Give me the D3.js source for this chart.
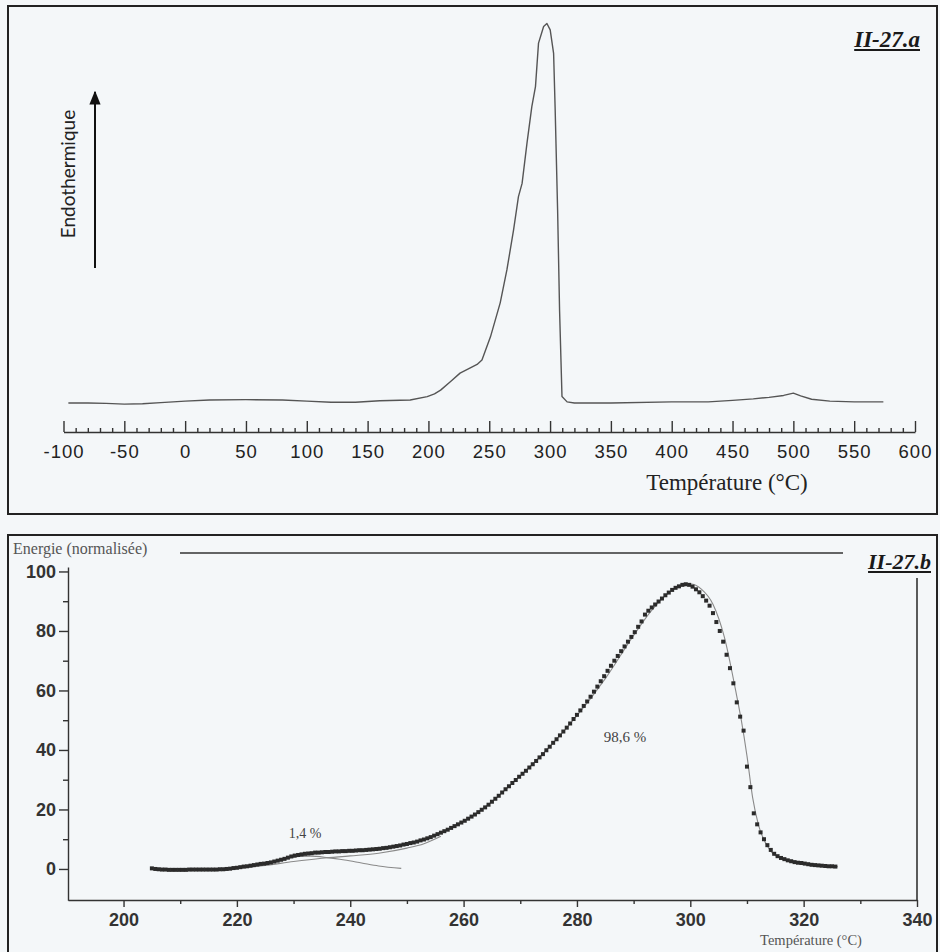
<!DOCTYPE html>
<meta charset="utf-8">
<html>
<head>
<script src="https://cdn.jsdelivr.net/npm/d3@7"></script>
<style>
  body { margin: 0; background: #f4f7f9; }
  svg { display: block; }
  .serif { font-family: "Liberation Serif", "DejaVu Serif", serif; }
  .axisA text { font-family: "Liberation Sans", Arial, sans-serif; font-size: 18.5px; letter-spacing: 1px; fill: #222; }
  .axisB text { font-family: "Liberation Sans", Arial, sans-serif; font-size: 18px; font-weight: bold; fill: #333; }
  .axisA path, .axisA line, .axisB path, .axisB line { stroke: #333; stroke-width: 1.4px; }
</style>
</head>
<body>
<script>
// ---- panel a : DSC trace (arbitrary units, peak ~100)
var dscTemp = [-96, -80, -65, -50, -35, -20, 0, 20, 50, 80, 100, 120, 140, 160, 185, 199, 205, 210, 218, 226,
               234, 240, 244, 251, 259, 264.5, 270, 274, 277, 281, 285, 288, 290.5, 294.7, 297.4, 300.1, 302.9, 304.2, 306.2, 307.8,
               309.8, 314, 320, 350, 400, 430, 450, 467, 480, 492, 500, 506, 515, 530, 550, 574];
var dscSignal = [0, 0, -0.1, -0.3, -0.2, 0.1, 0.5, 0.8, 0.9, 0.8, 0.5, 0.2, 0.2, 0.6, 0.8, 1.7, 2.4, 3.4, 5.6, 7.9,
                 9.2, 10.2, 11.4, 17.5, 26.5, 35.2, 45.8, 54.6, 58.1, 68.7, 78.4, 83.7, 95.2, 99.6, 100.4, 98.7, 92.5, 77.5, 51, 24.6,
                 1.7, 0.3, 0, 0, 0.3, 0.3, 0.7, 1.1, 1.5, 2.0, 2.6, 1.9, 1.0, 0.5, 0.3, 0.3];
var tempTicksA = [-100, -50, 0, 50, 100, 150, 200, 250, 300, 350, 400, 450, 500, 550, 600];

// ---- panel b : normalised energy, one point every 0.6 °C from 205 °C
var energyT0 = 205, energyStep = 0.6;
var energy = [
  0.2, 0.0, -0.1, -0.2, -0.2, -0.3, -0.3, -0.3, -0.3, -0.3,
  -0.3, -0.2, -0.2, -0.2, -0.2, -0.2, -0.2, -0.2, -0.2, -0.2,
  -0.1, -0.1, 0.0, 0.1, 0.3, 0.4, 0.6, 0.8, 0.9, 1.1,
  1.3, 1.5, 1.7, 1.8, 2.0, 2.2, 2.5, 2.8, 3.1, 3.4,
  3.8, 4.2, 4.5, 4.7, 4.9, 5.1, 5.2, 5.3, 5.5, 5.5,
  5.6, 5.7, 5.7, 5.8, 5.9, 5.9, 6.0, 6.0, 6.1, 6.1,
  6.2, 6.3, 6.3, 6.4, 6.5, 6.6, 6.7, 6.8, 7.0, 7.1,
  7.3, 7.5, 7.7, 7.9, 8.2, 8.4, 8.7, 8.9, 9.2, 9.6,
  9.9, 10.3, 10.7, 11.2, 11.7, 12.2, 12.7, 13.2, 13.8, 14.4,
  15.0, 15.6, 16.2, 16.9, 17.6, 18.3, 19.1, 19.9, 20.7, 21.6,
  22.6, 23.6, 24.6, 25.7, 26.8, 27.8, 28.9, 29.9, 31.0, 32.0,
  33.0, 34.1, 35.2, 36.3, 37.5, 38.6, 39.9, 41.1, 42.4, 43.6,
  44.9, 46.2, 47.5, 48.9, 50.4, 51.8, 53.3, 54.8, 56.3, 57.9,
  59.6, 61.3, 63.1, 64.8, 66.6, 68.3, 70.0, 71.6, 73.2, 74.8,
  76.4, 78.0, 79.6, 81.4, 83.2, 85.5, 86.8, 87.9, 88.9, 89.9,
  90.9, 92.0, 92.9, 93.8, 94.5, 95.0, 95.5, 95.7, 95.5, 94.9,
  94.0, 93.0, 91.7, 90.2, 88.5, 86.0, 83.0, 80.0, 76.4, 72.0,
  67.5, 62.4, 56.0, 51.2, 46.5, 34.4, 27.5, 18.7, 15.0, 12.3,
  10.0, 8.0, 6.4, 5.1, 4.3, 3.7, 3.3, 2.9, 2.6, 2.3,
  2.1, 2.0, 1.8, 1.6, 1.4, 1.3, 1.2, 1.1, 1.0, 0.9,
  0.9, 0.8
];
// fitted curves
var fitTemp   = [205, 215, 220, 225, 230, 234, 238, 242, 246, 250, 255, 260, 265, 270, 275, 280, 285, 290, 293, 296, 298, 300, 302, 304, 306, 308, 309, 310, 311, 312, 314, 316, 320, 326];
var fitEnergy = [0, 0, 0.5, 1.8, 4.0, 5.2, 5.8, 6.3, 7.0, 8.4, 11.4, 16.0, 22.6, 31.3, 40.7, 51.5, 64.0, 78.5, 86.5, 92.5, 95.0, 95.8, 94.0, 89.0, 78.0, 60.0, 50.0, 38.0, 24.0, 15.0, 6.5, 3.5, 1.8, 0.8];
var smallTemp   = [218, 220, 224, 228, 231, 233, 236, 239, 242, 245, 249];
var smallEnergy = [0, 0.3, 1.5, 3.3, 4.2, 4.3, 3.8, 3.0, 2.0, 1.0, 0.2];
var mainTemp    = [215, 220, 225, 230, 235, 240, 245, 250, 253, 256];
var mainEnergy  = [0, 0.2, 1.2, 2.5, 3.6, 4.4, 5.3, 7.0, 8.5, 11.0];
var energyTicks = [0, 20, 40, 60, 80, 100];
var energyMinor = [10, 30, 50, 70, 90];
var tempTicksB = [200, 220, 240, 260, 280, 300, 320, 340];
var tempMinorB = [210, 230, 250, 270, 290, 310, 330];

var svg = d3.select("body").append("svg")
    .attr("width", 940)
    .attr("height", 952);

// panel frames
svg.append("rect").attr("x", 8).attr("y", 6).attr("width", 929).attr("height", 508)
    .attr("fill", "none").attr("stroke", "#222").attr("stroke-width", 2);
svg.append("rect").attr("x", 8).attr("y", 535).attr("width", 929).attr("height", 420)
    .attr("fill", "none").attr("stroke", "#222").attr("stroke-width", 2);

//PANEL A******************************************************************
var xa = d3.scaleLinear().domain([-100, 600]).range([63.5, 915]);
var ya = d3.scaleLinear().domain([0, 100]).range([403, 25]);

var gA = svg.append("g");

gA.append("path")
    .datum(dscTemp.map(function(t, i) { return [t, dscSignal[i]]; }))
    .attr("fill", "none")
    .attr("stroke", "#555")
    .attr("stroke-width", 1.4)
    .attr("stroke-linejoin", "round")
    .attr("d", d3.line().x(function(d) { return xa(d[0]); }).y(function(d) { return ya(d[1]); }));

// axis with ticks pointing up, plain hyphen for negatives
gA.append("g")
    .attr("class", "axisA")
    .attr("transform", "translate(0,432)")
    .call(d3.axisBottom(xa).tickValues(tempTicksA).tickSize(-11).tickSizeOuter(0).tickPadding(13)
          .tickFormat(function(d) { return String(d); }));
gA.append("g")
    .attr("class", "axisA")
    .attr("transform", "translate(0,432)")
    .call(d3.axisBottom(xa).tickValues(d3.range(-100, 601, 10).filter(function(v) { return v % 50 !== 0; }))
          .tickSize(-4).tickFormat(""))
    .select(".domain").remove();

gA.append("text")
    .attr("class", "serif")
    .attr("x", 727).attr("y", 490)
    .attr("text-anchor", "middle")
    .attr("font-size", 23)
    .attr("fill", "#222")
    .text("Température (°C)");

// endothermic arrow
var defs = svg.append("defs");
defs.append("marker")
    .attr("id", "arrow")
    .attr("viewBox", "0 0 10 10")
    .attr("refX", 9).attr("refY", 5)
    .attr("markerWidth", 7).attr("markerHeight", 7)
    .attr("orient", "auto")
  .append("path").attr("d", "M0,1 L10,5 L0,9 z").attr("fill", "#111");
gA.append("line")
    .attr("x1", 95).attr("x2", 95).attr("y1", 268).attr("y2", 92)
    .attr("stroke", "#111").attr("stroke-width", 2)
    .attr("marker-end", "url(#arrow)");
gA.append("text")
    .attr("transform", "translate(75,174) rotate(-90)")
    .attr("text-anchor", "middle")
    .attr("font-family", "Lato, 'Open Sans', sans-serif")
    .attr("font-size", 19)
    .attr("fill", "#222")
    .text("Endothermique");

function panelTag(g, x, y, label, size) {
    var t = g.append("text")
        .attr("class", "serif")
        .attr("x", x).attr("y", y)
        .attr("text-anchor", "end")
        .attr("font-size", size)
        .attr("font-weight", "bold")
        .attr("font-style", "italic")
        .attr("fill", "#1a1a1a")
        .text(label);
    var w = t.node().getComputedTextLength();
    g.append("line")
        .attr("x1", x - w).attr("x2", x)
        .attr("y1", y + 3).attr("y2", y + 3)
        .attr("stroke", "#1a1a1a").attr("stroke-width", 2);
}
panelTag(gA, 920, 47, "II-27.a", 23);

//PANEL B******************************************************************
var xb = d3.scaleLinear().domain([190.2, 340]).range([68, 917]);
var yb = d3.scaleLinear().domain([-10.5, 101.5]).range([900.2, 567]);
var gB = svg.append("g");

// frame pieces
gB.append("line").attr("x1", 180).attr("x2", 843).attr("y1", 553).attr("y2", 553)
    .attr("stroke", "#333").attr("stroke-width", 1.6);
gB.append("line").attr("x1", 917).attr("x2", 917).attr("y1", 578).attr("y2", 900)
    .attr("stroke", "#333").attr("stroke-width", 1.6);

gB.append("text")
    .attr("class", "serif")
    .attr("x", 13).attr("y", 554)
    .attr("font-size", 16)
    .attr("fill", "#555")
    .text("Energie (normalisée)");
panelTag(gB, 931, 569, "II-27.b", 22);

// axes
gB.append("g")
    .attr("class", "axisB")
    .attr("transform", "translate(0,900)")
    .call(d3.axisBottom(xb).tickValues(tempTicksB).tickSize(7).tickSizeOuter(0).tickPadding(6));
gB.append("g")
    .attr("class", "axisB")
    .attr("transform", "translate(0,900)")
    .call(d3.axisBottom(xb).tickValues(tempMinorB).tickSize(4).tickFormat(""))
    .select(".domain").remove();
gB.append("g")
    .attr("class", "axisB")
    .attr("transform", "translate(68,0)")
    .call(d3.axisLeft(yb).tickValues(energyTicks).tickSize(9).tickSizeOuter(0).tickPadding(3));
gB.append("g")
    .attr("class", "axisB")
    .attr("transform", "translate(68,0)")
    .call(d3.axisLeft(yb).tickValues(energyMinor).tickSize(5).tickFormat(""))
    .select(".domain").remove();

// fitted curves
var fitLine = d3.line().curve(d3.curveMonotoneX)
    .x(function(d) { return xb(d[0]); })
    .y(function(d) { return yb(d[1]); });
[[smallTemp, smallEnergy], [mainTemp, mainEnergy], [fitTemp, fitEnergy]].forEach(function(s) {
    gB.append("path")
        .datum(s[0].map(function(t, i) { return [t, s[1][i]]; }))
        .attr("fill", "none")
        .attr("stroke", "#8a8a8a")
        .attr("stroke-width", 1.1)
        .attr("d", fitLine);
});

// measured points
gB.selectAll(".pt")
    .data(energy)
    .enter().append("rect")
    .attr("class", "pt")
    .attr("x", function(d, i) { return xb(energyT0 + i * energyStep) - 2; })
    .attr("y", function(d) { return yb(d) - 2; })
    .attr("width", 4).attr("height", 4)
    .attr("fill", "#2b2b2b");

gB.append("text").attr("class", "serif")
    .attr("x", 305).attr("y", 838).attr("text-anchor", "middle")
    .attr("font-size", 14).attr("fill", "#444")
    .text("1,4 %");
gB.append("text").attr("class", "serif")
    .attr("x", 625).attr("y", 742).attr("text-anchor", "middle")
    .attr("font-size", 15).attr("fill", "#444")
    .text("98,6 %");
gB.append("text").attr("class", "serif")
    .attr("x", 811).attr("y", 945).attr("text-anchor", "middle")
    .attr("font-size", 14.5).attr("fill", "#555")
    .text("Température (°C)");
</script>
</body>
</html>
